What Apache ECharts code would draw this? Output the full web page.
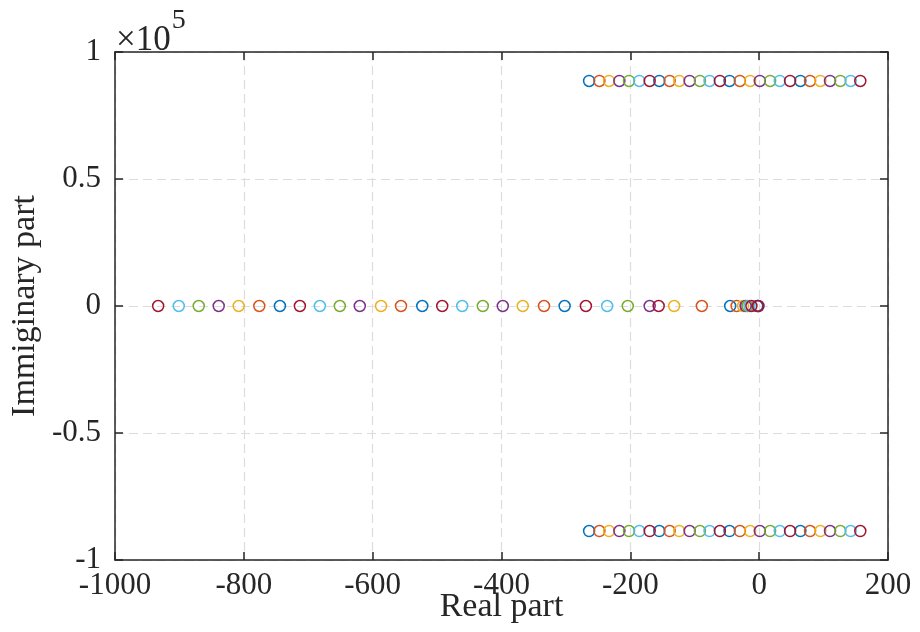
<!DOCTYPE html>
<html>
<head>
<meta charset="utf-8">
<script src="https://cdn.jsdelivr.net/npm/echarts@6/dist/echarts.min.js"></script>
<style>
  html, body { margin: 0; padding: 0; background: #fff; }
  #chart { width: 920px; height: 632px; }
</style>
</head>
<body>
<div id="chart"></div>
<script>
// Pole locations, grouped by plot colour (MATLAB default colour order)
const seriesNames = ['p1', 'p2', 'p3', 'p4', 'p5', 'p6', 'p7'];
const seriesColors = ['#0072BD', '#D95319', '#EDB120', '#7E2F8E', '#77AC30', '#4DBEEE', '#A2142F'];

// imaginary part of the complex-pair rows
const pairImag = 88600;

// real parts of the complex pairs, one list per colour
const pairReal = [
  [-264, -155, -46, 64],
  [-248, -139, -30, 79],
  [-233, -124, -14, 95],
  [-217, -108, 1, 110],
  [-202, -92, 17, 126],
  [-186, -77, 32, 142],
  [-170, -61, 48, 157]
];

// real poles (on the real axis), one list per colour
const realPoles = [
  [-744, -523, -302, -45, -3],
  [-776, -556, -334, -89, -35],
  [-808, -587, -367, -132, -25],
  [-839, -620, -398, -170, -21, -1],
  [-870, -651, -429, -204, -18],
  [-901, -682, -461, -236, -15],
  [-933, -713, -492, -269, -156, -12, -2]
];

// axis ticks
const xTicks = { min: -1000, max: 200, step: 200 };
const yTicks = { min: -100000, max: 100000, step: 50000 };
const yScale = 1e5;

const FONT = '"Liberation Serif", "DejaVu Serif", serif';
const AXIS_COLOR = '#262626';

const series = seriesNames.map((name, i) => {
  const pts = [];
  pairReal[i].forEach(x => { pts.push([x, pairImag]); });
  pairReal[i].forEach(x => { pts.push([x, -pairImag]); });
  realPoles[i].forEach(x => { pts.push([x, 0]); });
  return {
    name: name,
    type: 'scatter',
    xAxisIndex: 0,
    yAxisIndex: 0,
    symbol: 'circle',
    symbolSize: 11,
    itemStyle: { color: 'rgba(0,0,0,0)', borderColor: seriesColors[i], borderWidth: 1.5, opacity: 1 },
    emphasis: { disabled: true },
    data: pts,
    z: 3 + i
  };
});

const baseAxisLine = { show: true, onZero: false, lineStyle: { color: AXIS_COLOR, width: 1.5 } };
const baseTick = { show: true, inside: true, length: 8, lineStyle: { color: AXIS_COLOR, width: 1.5 } };

const chart = echarts.init(document.getElementById('chart'), null, { renderer: 'canvas' });
chart.setOption({
  animation: false,
  backgroundColor: '#ffffff',
  grid: { left: 115, right: 32, top: 52, bottom: 72, containLabel: false, outerBoundsMode: 'none' },
  xAxis: [
    {
      type: 'value', position: 'bottom',
      min: xTicks.min, max: xTicks.max, interval: xTicks.step,
      name: 'Real part', nameLocation: 'middle', nameGap: 30, nameMoveOverlap: false,
      nameTextStyle: { fontFamily: FONT, fontSize: 34, color: AXIS_COLOR },
      axisLine: baseAxisLine, axisTick: baseTick,
      axisLabel: { fontFamily: FONT, fontSize: 31, color: AXIS_COLOR, margin: 10, formatter: v => String(v) },
      splitLine: { show: true, lineStyle: { color: '#dcdcdc', width: 1.2, type: [9, 5] } }
    },
    {
      type: 'value', position: 'top',
      min: xTicks.min, max: xTicks.max, interval: xTicks.step,
      axisLine: baseAxisLine, axisTick: baseTick,
      axisLabel: { show: false }, splitLine: { show: false }
    }
  ],
  yAxis: [
    {
      type: 'value', position: 'left',
      min: yTicks.min, max: yTicks.max, interval: yTicks.step,
      name: 'Immiginary part', nameLocation: 'middle', nameGap: 73, nameRotate: 90, nameMoveOverlap: false,
      nameTextStyle: { fontFamily: FONT, fontSize: 34, color: AXIS_COLOR },
      axisLine: baseAxisLine, axisTick: baseTick,
      axisLabel: {
        fontFamily: FONT, fontSize: 31, color: AXIS_COLOR, margin: 14,
        formatter: v => String(Math.round(v / yScale * 10) / 10)
      },
      splitLine: { show: true, lineStyle: { color: '#dcdcdc', width: 1.2, type: [9, 5] } }
    },
    {
      type: 'value', position: 'right',
      min: yTicks.min, max: yTicks.max, interval: yTicks.step,
      axisLine: baseAxisLine, axisTick: baseTick,
      axisLabel: { show: false }, splitLine: { show: false }
    }
  ],
  graphic: [
    {
      type: 'text', left: 116, top: 7, z: 10,
      style: {
        text: '{b|×10}{s|5}',
        rich: {
          b: { fontFamily: FONT, fontSize: 35, fill: AXIS_COLOR, verticalAlign: 'bottom', padding: [16, 0, 0, 0] },
          s: { fontFamily: FONT, fontSize: 28, fill: AXIS_COLOR, verticalAlign: 'top', padding: [0, 0, 16, 1] }
        }
      }
    }
  ],
  series: series
});
</script>
</body>
</html>
